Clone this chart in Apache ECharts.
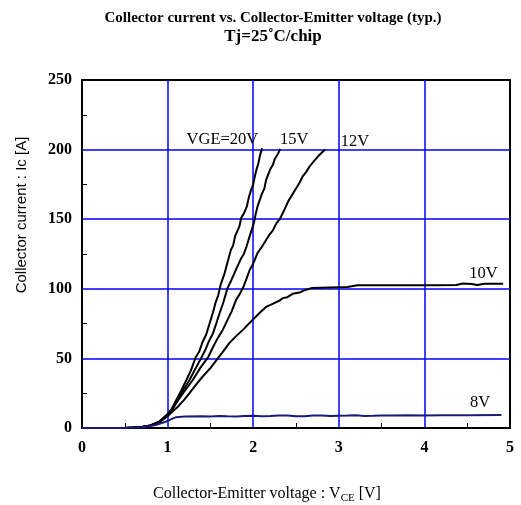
<!DOCTYPE html>
<html>
<head>
<meta charset="utf-8">
<script src="https://cdn.jsdelivr.net/npm/echarts@6/dist/echarts.min.js"></script>
<style>html,body{margin:0;padding:0;background:#fff;}#c{width:521px;height:505px;}</style>
</head>
<body>
<div id="c"></div>
<script>
const xTicks = [0, 1, 2, 3, 4, 5];
const yTicks = [0, 50, 100, 150, 200, 250];
const seriesNames = ['VGE=20V', '15V', '12V', '10V', '8V'];
const vge20 = [[0,0],[0.5,0],[0.6,0.3],[0.7,0.8],[0.8,1.8],[0.9,4.5],[1.0,10],[1.05,14],[1.1,20],[1.16,27],[1.22,34.5],[1.27,41],[1.33,51],[1.37,55],[1.41,62],[1.45,67],[1.49,75],[1.53,83],[1.56,90],[1.59,95],[1.62,103],[1.665,111],[1.70,119],[1.74,128],[1.765,131],[1.79,138],[1.84,145],[1.86,151],[1.89,154],[1.925,159],[1.95,166],[1.97,170],[2.0,175],[2.02,181],[2.04,186],[2.06,190],[2.08,196],[2.105,201]];
const vge15 = [[0,0],[0.5,0],[0.6,0.3],[0.7,0.8],[0.8,1.8],[0.9,4.3],[1.0,9.5],[1.05,13],[1.1,18],[1.18,27],[1.256,34.5],[1.32,42],[1.39,50],[1.44,56],[1.48,62],[1.53,68],[1.568,75],[1.61,83],[1.65,90],[1.70,100.5],[1.743,106],[1.78,111],[1.80,114],[1.86,122],[1.89,125],[1.92,130],[1.96,138],[2.007,147],[2.03,154],[2.05,159],[2.10,168],[2.13,172],[2.15,178],[2.20,186],[2.23,189],[2.25,193],[2.29,197],[2.315,200.5]];
const vge12 = [[0,0],[0.5,0],[0.6,0.3],[0.7,0.8],[0.8,1.8],[0.9,4.3],[1.0,9],[1.08,16],[1.18,25],[1.24,30],[1.294,34.5],[1.38,43],[1.475,51],[1.53,58],[1.58,64],[1.64,70],[1.70,77.7],[1.75,84],[1.80,92],[1.84,96],[1.88,100.5],[1.92,107],[1.96,113.7],[2.0,118],[2.05,125.7],[2.1,130],[2.14,134],[2.19,139],[2.23,142],[2.27,147],[2.31,150],[2.366,157],[2.41,163],[2.45,167],[2.5,172],[2.54,176],[2.58,181],[2.62,184],[2.66,188],[2.70,191],[2.77,196],[2.84,200]];
const vge10 = [[0,0],[0.5,0],[0.6,0.3],[0.7,0.8],[0.8,1.8],[0.9,4],[1.0,8.5],[1.06,12],[1.12,15.3],[1.19,20],[1.256,25],[1.33,31],[1.41,37],[1.5,43],[1.586,50],[1.65,55],[1.72,61],[1.8,66],[1.88,70.5],[1.95,75],[2.015,79],[2.08,83],[2.15,87],[2.22,89],[2.31,91.6],[2.346,93.3],[2.4,94],[2.46,96.4],[2.54,97.3],[2.6,99],[2.68,100.5],[2.89,101],[3.0,101.2],[3.1,101.3],[3.22,102.5],[3.5,102.6],[3.8,102.5],[4.1,102.6],[4.37,102.8],[4.45,103.8],[4.55,103.5],[4.62,102.8],[4.7,103.6],[4.92,103.6]];
const vge8 = [[0,0],[0.5,0],[0.7,0.5],[0.85,2],[0.95,4],[1.0,5],[1.05,6.5],[1.1,7.8],[1.2,8.3],[1.4,8.5],[1.5,8.2],[1.6,8.6],[1.7,8.4],[1.8,8.3],[1.9,8.7],[2.0,8.8],[2.1,8.4],[2.2,8.6],[2.3,8.9],[2.4,8.9],[2.5,8.4],[2.6,8.5],[2.7,8.9],[2.8,9.0],[2.9,8.6],[3.0,8.8],[3.1,8.9],[3.2,9.2],[3.3,8.7],[3.4,8.8],[3.5,9.0],[3.6,8.9],[3.8,9.1],[4.0,9.0],[4.2,9.2],[4.5,9.2],[4.9,9.3]];
const labelCoords = [[1.64,207],[2.48,207],[3.19,205.5],[4.69,111],[4.65,18]];

const chart = echarts.init(document.getElementById('c'), null, {renderer:'canvas'});
const serif = 'Liberation Serif';
const datasets = [vge20, vge15, vge12, vge10, vge8];
const colors = ['#000000','#000000','#000000','#000000','#1a1a7a'];
const series = datasets.map((d, i) => ({
  type: 'line', data: d, showSymbol: false, symbol: 'none', smooth: false,
  lineStyle: {color: colors[i], width: 2}, z: 5,
  markPoint: {
    symbol: 'circle', symbolSize: 0, silent: true,
    data: [{coord: labelCoords[i], value: seriesNames[i]}],
    label: {show: true, position: 'inside', formatter: seriesNames[i], color: '#000', fontFamily: serif, fontSize: 16.5}
  }
}));

chart.setOption({
  animation: false,
  backgroundColor: '#fff',
  title: {
    text: 'Collector current vs. Collector-Emitter voltage (typ.)\n{b|Tj=25˚C/chip}',
    left: 268, top: 5, textAlign: 'center',
    textStyle: {fontFamily: serif, fontWeight: 'bold', fontSize: 15, color: '#000', lineHeight: 17,
      rich: {b: {fontFamily: serif, fontWeight: 'bold', fontSize: 17, color: '#000', lineHeight: 19}}}
  },
  grid: {left: 82, right: 11, top: 80, bottom: 77, containLabel: false, outerBoundsMode: 'none',
    show: true, borderColor: '#000', borderWidth: 2, backgroundColor: 'transparent'},
  xAxis: {
    type: 'value', min: 0, max: 5, interval: 1,
    axisLine: {show: true, lineStyle: {color: '#000', width: 2}},
    axisTick: {show: false, inside: true},
    minorTick: {show: true, splitNumber: 2, length: 5, lineStyle: {color: '#000', width: 1}},
    splitLine: {show: true, showMinLine: false, showMaxLine: false, lineStyle: {color: '#0000ff', width: 1.5}},
    axisLabel: {margin: 12, fontFamily: serif, fontWeight: 'bold', fontSize: 16, color: '#000',
      formatter: v => xTicks.includes(v) ? String(v) : ''}
  },
  yAxis: {
    type: 'value', min: 0, max: 250, interval: 50,
    axisLine: {show: true, lineStyle: {color: '#000', width: 2}},
    axisTick: {show: false, inside: true},
    minorTick: {show: true, splitNumber: 2, length: 5, lineStyle: {color: '#000', width: 1}},
    splitLine: {show: true, showMinLine: false, showMaxLine: false, lineStyle: {color: '#0000ff', width: 1.5}},
    axisLabel: {margin: 10, fontFamily: serif, fontWeight: 'bold', fontSize: 16, color: '#000',
      formatter: v => yTicks.includes(v) ? String(v) : ''}
  },
  graphic: [{
    type: 'text', x: 22, y: 215, rotation: Math.PI / 2,
    style: {text: 'Collector current : Ic [A]', fontFamily: 'Liberation Sans', fontSize: 15, fill: '#000', align: 'center', verticalAlign: 'middle'}
  }, {
    type: 'text', x: 267, y: 494,
    style: {
      text: '{n|Collector-Emitter voltage : V}{s|CE}{n| [V]}', align: 'center', verticalAlign: 'middle',
      rich: {n: {fontFamily: serif, fontSize: 16, fill: '#000', color: '#000'}, s: {fontFamily: serif, fontSize: 11, color: '#000', fill: '#000', padding: [8,0,0,0]}}
    }
  }],
  series: series
});
</script>
</body>
</html>
